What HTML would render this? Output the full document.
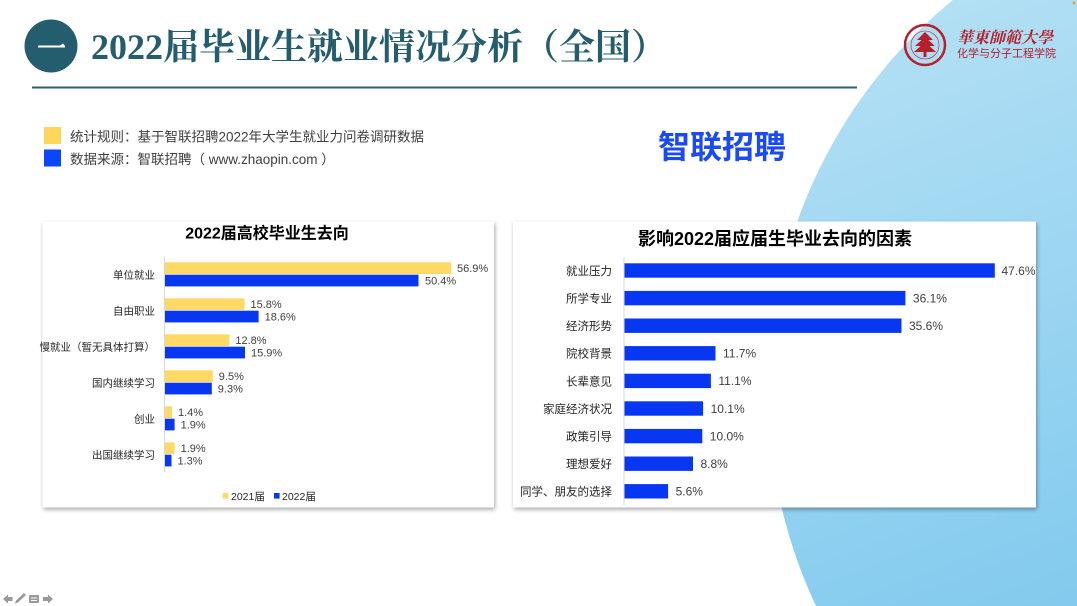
<!DOCTYPE html>
<html><head><meta charset="utf-8"><style>
html,body{margin:0;padding:0;background:#fff;width:1077px;height:606px;overflow:hidden}
#w{position:relative;width:1077px;height:606px;overflow:hidden}
svg{display:block;position:absolute;left:0;top:0}
.s{font-family:"Liberation Sans","Noto Sans CJK SC",sans-serif}
.t{font-family:"Liberation Serif","Noto Serif CJK SC",serif;font-weight:bold}
</style></head><body><div id="w">
<svg width="1077" height="606" viewBox="0 0 1077 606" xmlns="http://www.w3.org/2000/svg">
<defs>
<linearGradient id="bg" x1="850" y1="0" x2="1077" y2="606" gradientUnits="userSpaceOnUse">
<stop offset="0" stop-color="#b5e1f5"/><stop offset="1" stop-color="#82caee"/>
</linearGradient>
<filter id="sh" x="-3%" y="-3%" width="106%" height="106%">
<feDropShadow dx="1" dy="2" stdDeviation="2" flood-color="#000" flood-opacity="0.35"/>
</filter>
</defs>
<rect width="1077" height="606" fill="#fff"/>
<path d="M952.8 0 A506 506 0 0 0 816 606 L1077 606 L1077 0 Z" fill="url(#bg)"/>
<circle cx="1074" cy="3" r="1.5" fill="#f0a020"/>

<!-- Title -->
<circle cx="51" cy="46" r="26.5" fill="#245e6e"/>
<path d="M38 45.5 H60 L63 43.5 L65 46 V47.5 H38 Z" fill="#fff"/>
<text class="t" x="91" y="59" font-size="36" fill="#245e6e">2022届毕业生就业情况分析（全国）</text>
<rect x="32" y="86.5" width="825" height="2" fill="#2e6070"/>

<!-- Legend -->
<rect x="44" y="127" width="17" height="17" fill="#ffd55a"/>
<rect x="44" y="149.5" width="17" height="17" fill="#0a46ff"/>
<text class="s" x="70" y="141.5" font-size="13.5" fill="#404040">统计规则：基于智联招聘2022年大学生就业力问卷调研数据</text>
<text class="s" x="70" y="164" font-size="13.5" fill="#404040" xml:space="preserve">数据来源：智联招聘（ www.zhaopin.com ）</text>

<!-- Zhaopin logo -->
<text class="s" x="658" y="158" font-size="32" font-weight="bold" fill="#1a4af5">智联招聘</text>

<!-- ECNU logo -->
<circle cx="925" cy="45" r="20" fill="none" stroke="#b5202a" stroke-width="2.5"/>
<circle cx="925" cy="45" r="14" fill="none" stroke="#b5202a" stroke-width="0.6"/>
<path d="M925 32 L917 40 H933 Z M925 37 L915 46 H935 Z M925 42 L914 52 H936 Z" fill="#b5202a"/>
<rect x="923.5" y="50" width="3" height="7" fill="#b5202a"/>
<text x="957" y="43" font-size="16" font-weight="bold" fill="#b5202a" font-family="'Noto Serif CJK TC','Noto Serif CJK SC',serif" font-style="italic">華東師範大學</text>
<text class="s" x="957" y="57" font-size="11" fill="#b5202a">化学与分子工程学院</text>

<!-- Left chart box -->
<rect x="42.5" y="221.5" width="451.5" height="286" fill="#fff" filter="url(#sh)"/>
<text class="s" x="267" y="238.5" font-size="16" font-weight="bold" fill="#000" text-anchor="middle">2022届高校毕业生去向</text>
<line x1="164.5" y1="257" x2="164.5" y2="472" stroke="#d9d9d9" stroke-width="1"/>
<g fill="#ffd966">
<rect x="165" y="262.3" width="286.2" height="11.7"/>
<rect x="165" y="298.3" width="79.5" height="11.7"/>
<rect x="165" y="334.3" width="64.4" height="11.7"/>
<rect x="165" y="370.3" width="47.8" height="11.7"/>
<rect x="165" y="406.3" width="7.0" height="11.7"/>
<rect x="165" y="442.3" width="9.6" height="11.7"/>
</g>
<g fill="#0837f2">
<rect x="165" y="274.7" width="253.5" height="11.7"/>
<rect x="165" y="310.7" width="93.6" height="11.7"/>
<rect x="165" y="346.7" width="80.0" height="11.7"/>
<rect x="165" y="382.7" width="46.8" height="11.7"/>
<rect x="165" y="418.7" width="9.6" height="11.7"/>
<rect x="165" y="454.7" width="6.5" height="11.7"/>
</g>
<g class="s" font-size="11" fill="#404040">
<text x="457" y="272.1">56.9%</text><text x="425" y="284.5">50.4%</text>
<text x="250.5" y="308.1">15.8%</text><text x="264.6" y="320.5">18.6%</text>
<text x="235.4" y="344.1">12.8%</text><text x="251" y="356.5">15.9%</text>
<text x="218.8" y="380.1">9.5%</text><text x="217.8" y="392.5">9.3%</text>
<text x="178" y="416.1">1.4%</text><text x="180.6" y="428.5">1.9%</text>
<text x="180.6" y="452.1">1.9%</text><text x="177.5" y="464.5">1.3%</text>
</g>
<g class="s" font-size="10.5" fill="#262626" text-anchor="end">
<text x="155" y="278.3">单位就业</text>
<text x="155" y="314.3">自由职业</text>
<text x="155" y="350.3">慢就业（暂无具体打算）</text>
<text x="155" y="386.3">国内继续学习</text>
<text x="155" y="422.3">创业</text>
<text x="155" y="458.3">出国继续学习</text>
</g>
<rect x="222.7" y="493" width="5.6" height="5.6" fill="#ffd966"/>
<text class="s" x="231" y="500" font-size="10.5" fill="#262626">2021届</text>
<rect x="274" y="493" width="5.6" height="5.6" fill="#0837f2"/>
<text class="s" x="282" y="500" font-size="10.5" fill="#262626">2022届</text>

<!-- Right chart box -->
<rect x="513" y="221.5" width="523" height="286" fill="#fff" filter="url(#sh)"/>
<text class="s" x="775" y="245" font-size="18" font-weight="bold" fill="#000" text-anchor="middle">影响2022届应届生毕业去向的因素</text>
<line x1="624" y1="257" x2="624" y2="505" stroke="#d9d9d9" stroke-width="1"/>
<g fill="#0837f2">
<rect x="624.5" y="263.3" width="370.3" height="14.4"/>
<rect x="624.5" y="290.9" width="280.9" height="14.4"/>
<rect x="624.5" y="318.5" width="277.0" height="14.4"/>
<rect x="624.5" y="346.1" width="91.0" height="14.4"/>
<rect x="624.5" y="373.7" width="86.4" height="14.4"/>
<rect x="624.5" y="401.3" width="78.6" height="14.4"/>
<rect x="624.5" y="428.9" width="77.8" height="14.4"/>
<rect x="624.5" y="456.5" width="68.5" height="14.4"/>
<rect x="624.5" y="484.1" width="43.6" height="14.4"/>
</g>
<g class="s" font-size="12" fill="#404040">
<text x="1001.5" y="274.8">47.6%</text>
<text x="912.9" y="302.4">36.1%</text>
<text x="909" y="330">35.6%</text>
<text x="723" y="357.6">11.7%</text>
<text x="718.4" y="385.2">11.1%</text>
<text x="710.6" y="412.8">10.1%</text>
<text x="709.8" y="440.4">10.0%</text>
<text x="700.5" y="468">8.8%</text>
<text x="675.6" y="495.6">5.6%</text>
</g>
<g class="s" font-size="11.5" fill="#262626" text-anchor="end">
<text x="612" y="274.9">就业压力</text>
<text x="612" y="302.5">所学专业</text>
<text x="612" y="330.1">经济形势</text>
<text x="612" y="357.7">院校背景</text>
<text x="612" y="385.3">长辈意见</text>
<text x="612" y="412.9">家庭经济状况</text>
<text x="612" y="440.5">政策引导</text>
<text x="612" y="468.1">理想爱好</text>
<text x="612" y="495.7">同学、朋友的选择</text>
</g>

<!-- Nav icons -->
<g fill="#9a9a9a">
<path d="M3 599 L8 594.5 V597 H12.5 V601 H8 V603.5 Z"/>
<path d="M15 603.5 L16 600.5 L24 593 L26 595 L18 602.5 Z"/>
<rect x="29" y="595" width="10" height="8" rx="1"/>
<path d="M53 599 L48 594.5 V597 H43 V601 H48 V603.5 Z"/>
</g>
<rect x="31" y="597.5" width="6" height="1" fill="#fff"/>
<rect x="31" y="600" width="6" height="1" fill="#fff"/>
</svg>
</div></body></html>
